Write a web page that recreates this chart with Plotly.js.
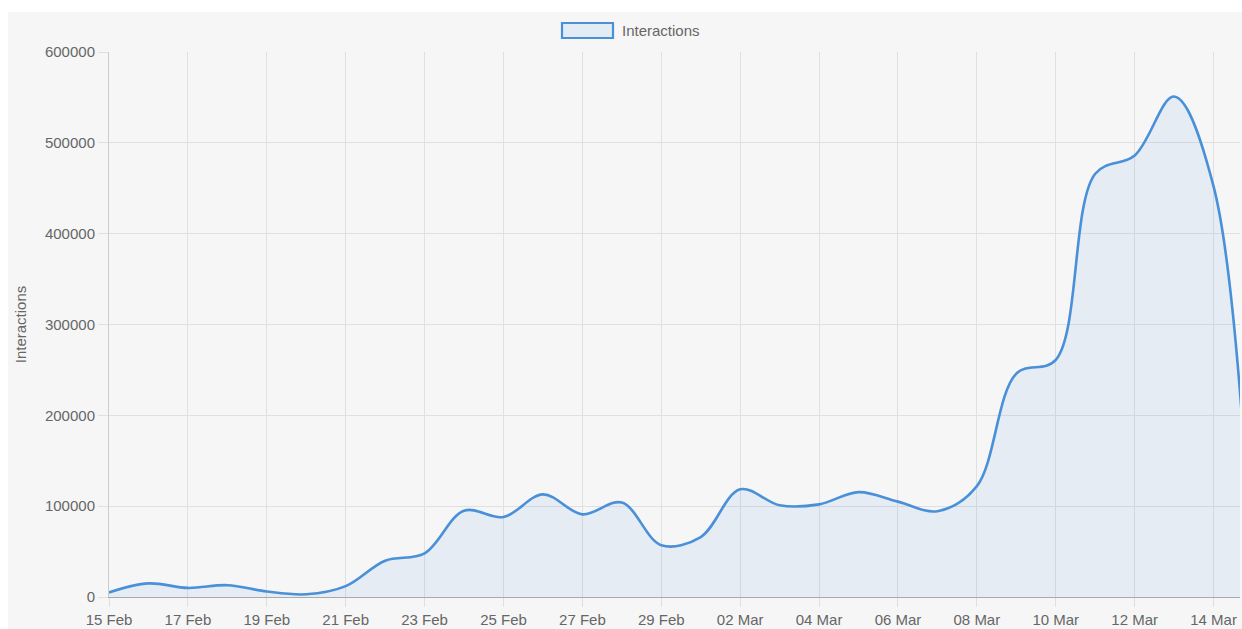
<!DOCTYPE html>
<html>
<head>
<meta charset="utf-8">
<script src="https://cdn.plot.ly/plotly-3.0.1.min.js"></script>
<style>
html,body{margin:0;padding:0;background:#ffffff;}
#chart{width:1242px;height:629px;}
</style>
</head>
<body>
<div id="chart"></div>
<script>
// Daily interactions, 15 Feb 2020 – 15 Mar 2020
const dates = [
  '2020-02-15','2020-02-16','2020-02-17','2020-02-18','2020-02-19','2020-02-20',
  '2020-02-21','2020-02-22','2020-02-23','2020-02-24','2020-02-25','2020-02-26',
  '2020-02-27','2020-02-28','2020-02-29','2020-03-01','2020-03-02','2020-03-03',
  '2020-03-04','2020-03-05','2020-03-06','2020-03-07','2020-03-08','2020-03-09',
  '2020-03-10','2020-03-11','2020-03-12','2020-03-13','2020-03-14','2020-03-15'
];
const interactions = [
  5000, 15000, 10000, 13000, 6000, 3000,
  12000, 40000, 48000, 95000, 88000, 113000,
  91000, 104000, 57000, 66000, 118500, 101000,
  102000, 115500, 105000, 94500, 122000, 246000,
  261000, 466000, 486000, 551000, 452000, 5000
];
const seriesName = 'Interactions';
const yTitle = 'Interactions';

const lineColor = '#4a90d9';
const fillColor = 'rgba(74,144,226,0.10)';
const textColor = '#666666';
const font = {family: '"Liberation Sans", Arial, Helvetica, sans-serif', size: 15, color: textColor};

// pixel helpers for decorative shapes (paper coordinates)
const W = 1242, H = 629, ML = 109, MR = 2, MT = 52, MB = 32;
const pw = W - ML - MR, ph = H - MT - MB;
const px = v => (v - ML) / pw;
const py = v => (H - MB - v) / ph;

const trace = {
  x: dates,
  y: interactions,
  type: 'scatter',
  mode: 'lines',
  name: seriesName,
  line: {color: lineColor, width: 2.6, shape: 'spline', smoothing: 1},
  fill: 'tozeroy',
  fillcolor: fillColor,
  showlegend: false,
  hoverinfo: 'x+y'
};

const layout = {
  width: W, height: H,
  margin: {l: ML, r: MR, t: MT, b: MB},
  paper_bgcolor: '#f6f6f6',
  plot_bgcolor: 'rgba(0,0,0,0)',
  font: font,
  showlegend: false,
  xaxis: {
    type: 'date',
    range: ['2020-02-15', '2020-03-14 16:05'],
    tick0: '2020-02-15',
    dtick: 2 * 86400000,
    tickformat: '%d %b',
    showgrid: true,
    gridcolor: '#e0e0e0',
    gridwidth: 1,
    ticks: 'outside',
    ticklen: 9,
    tickcolor: '#e0e0e0',
    showline: true,
    linecolor: '#a9a9a9',
    linewidth: 1,
    zeroline: false,
    tickfont: font,
    fixedrange: true
  },
  yaxis: {
    range: [0, 600000],
    dtick: 100000,
    tick0: 0,
    tickformat: 'd',
    showgrid: true,
    gridcolor: '#e0e0e0',
    gridwidth: 1,
    ticks: 'outside',
    ticklen: 10,
    tickcolor: '#e0e0e0',
    showline: true,
    linecolor: '#cccccc',
    linewidth: 1,
    zeroline: false,
    tickfont: font,
    title: {text: yTitle, font: font, standoff: 14},
    automargin: false,
    fixedrange: true
  },
  shapes: [
    // white strips at top and left (page background)
    {type: 'rect', xref: 'paper', yref: 'paper', x0: px(0), x1: px(W), y0: py(12), y1: py(0),
     fillcolor: '#ffffff', line: {width: 0}, layer: 'above'},
    {type: 'rect', xref: 'paper', yref: 'paper', x0: px(0), x1: px(8), y0: py(H), y1: py(0),
     fillcolor: '#ffffff', line: {width: 0}, layer: 'above'},
    // legend box
    {type: 'rect', xref: 'paper', yref: 'paper', x0: px(562), x1: px(613), y0: py(38), y1: py(23),
     fillcolor: '#e3ebf5', line: {color: lineColor, width: 2.2}, layer: 'above'}
  ],
  annotations: [
    {xref: 'paper', yref: 'paper', x: px(620), y: py(30.5), xanchor: 'left', yanchor: 'middle',
     text: seriesName, showarrow: false, font: font}
  ]
};

Plotly.newPlot('chart', [trace], layout, {displayModeBar: false, staticPlot: true});
</script>
</body>
</html>
